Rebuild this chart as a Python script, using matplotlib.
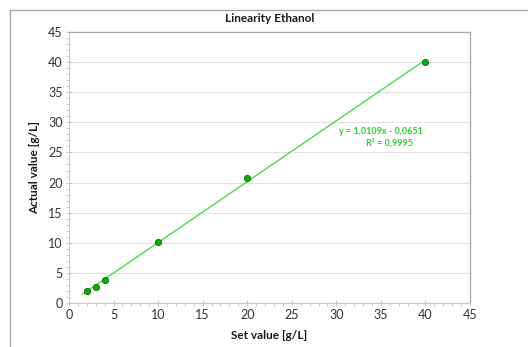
import matplotlib
matplotlib.use("Agg")
import matplotlib.pyplot as plt
from matplotlib.patches import Rectangle
from matplotlib.ticker import MultipleLocator
import numpy as np

plt.rcParams['font.family'] = ['Lato', 'DejaVu Sans']

set_values = [2, 3, 4, 10, 20, 40]
actual_values = [2.0, 2.7, 3.8, 10.2, 20.7, 40.1]
slope = 1.0109
intercept = -0.0651
trend_range = [1.5, 40]
equation_text = "y = 1,0109x - 0,0651"
r2_text = "R² = 0,9995"

W, H = 528, 347
fig = plt.figure(figsize=(W / 100, H / 100), dpi=100)
fig.patches.append(Rectangle((10/W, -0.1), 1.2, 1 - 10/H + 0.1,
                             transform=fig.transFigure, fill=False,
                             edgecolor='#a6a6a6', linewidth=1.0))
ax = fig.add_axes([69/W, 44/H, 401/W, 271/H])

ax.set_xlim(0, 45)
ax.set_ylim(0, 45)
ax.xaxis.set_major_locator(MultipleLocator(5))
ax.yaxis.set_major_locator(MultipleLocator(5))
ax.xaxis.set_minor_locator(MultipleLocator(1))
ax.yaxis.set_minor_locator(MultipleLocator(1))
ax.grid(axis='y', which='major', color='#e3e3e3', linewidth=0.8)
ax.set_axisbelow(True)

for s in ['left', 'bottom']:
    ax.spines[s].set_color('#c8c8c8')
    ax.spines[s].set_linewidth(0.8)
for s in ['top', 'right']:
    ax.spines[s].set_color('#a6a6a6')
    ax.spines[s].set_linewidth(0.9)

ax.tick_params(which='major', direction='inout', length=5, color='#c8c8c8',
               labelsize=9, labelcolor='#333333', pad=2)
ax.tick_params(which='minor', direction='out', length=2, color='#c8c8c8')
ax.tick_params(top=False, right=False, which='both')

tx = np.array(trend_range)
ax.plot(tx, slope * tx + intercept, color='#44dd44', linewidth=1.0, zorder=2)
ax.plot(set_values, actual_values, linestyle='none', marker='o', markersize=4.5,
        markerfacecolor='#00b400', markeredgecolor='#1a5c1a', markeredgewidth=0.6,
        zorder=3)

ax.text(381 / W, 1 - 131 / H, equation_text, transform=fig.transFigure, fontsize=6.5,
        color='#33cc33', fontweight='bold', ha='center', va='center')
ax.text(389 / W, 1 - 143 / H, r2_text, transform=fig.transFigure, fontsize=6.5,
        color='#33cc33', fontweight='bold', ha='center', va='center')

ax.set_title("Linearity Ethanol", fontsize=8.5, fontweight='bold', color='#1a1a1a', pad=7)
ax.set_xlabel("Set value [g/L]", fontsize=8.5, fontweight='bold', color='#1a1a1a', labelpad=6.5)
ax.set_ylabel("Actual value [g/L]", fontsize=8.5, fontweight='bold', color='#1a1a1a', labelpad=6)

fig.savefig("out.png", dpi=100)
